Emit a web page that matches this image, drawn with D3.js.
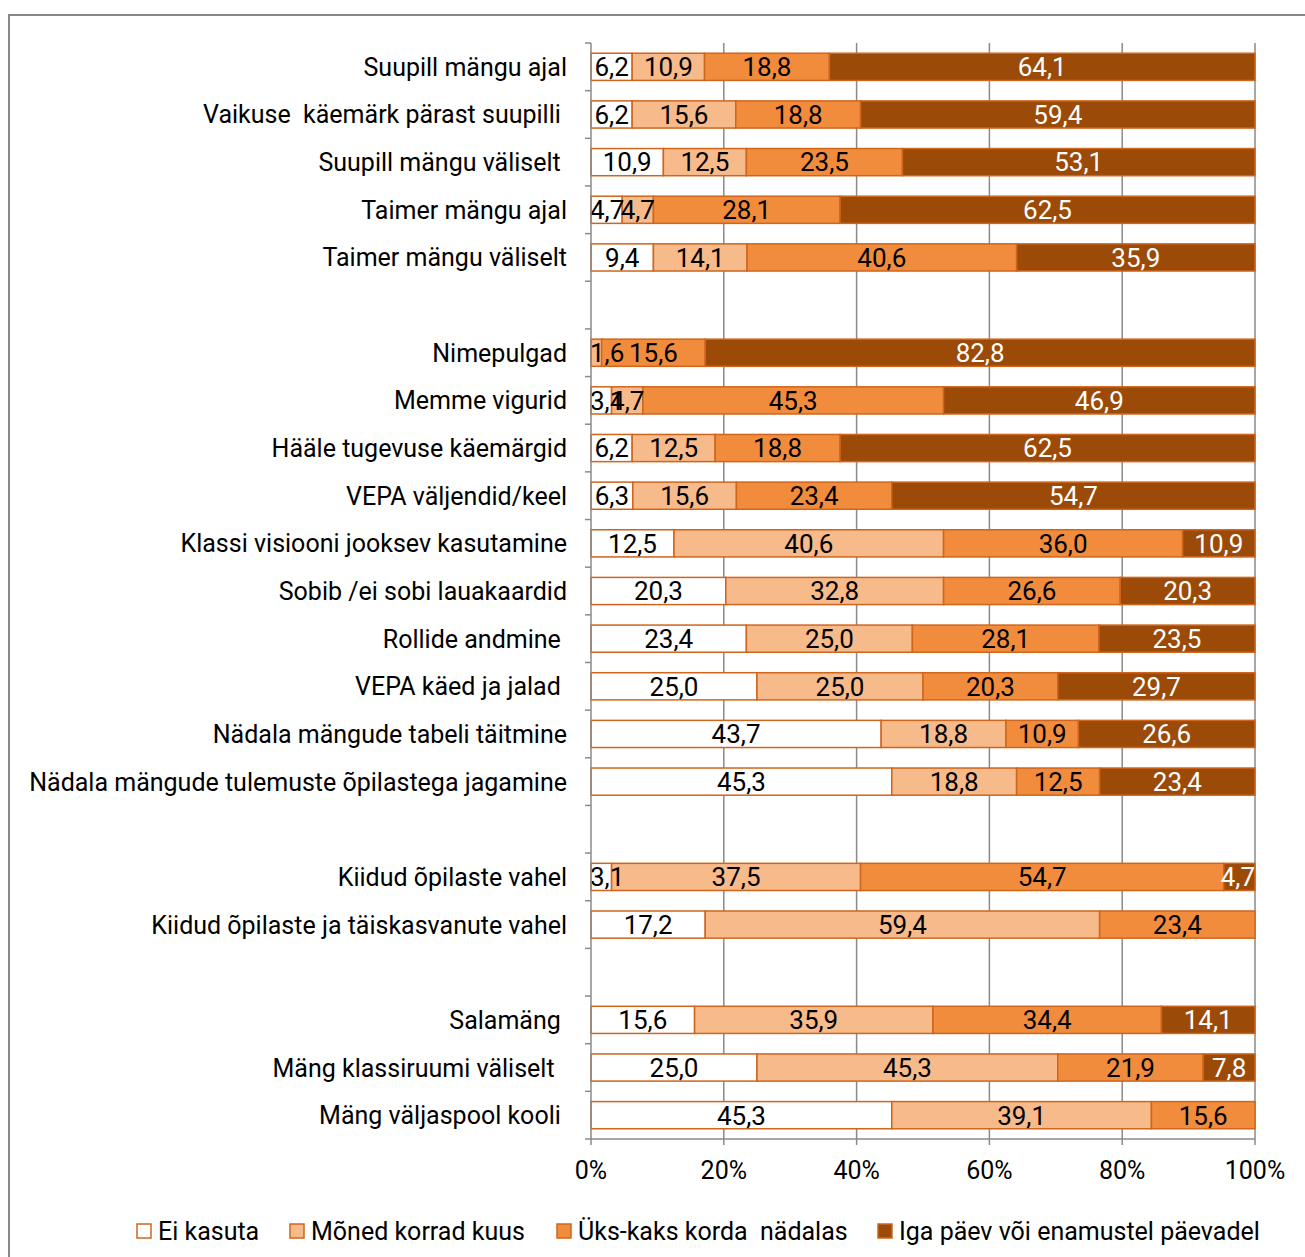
<!DOCTYPE html>
<html>
<head>
<meta charset="utf-8">
<script src="https://cdn.jsdelivr.net/npm/d3@7"></script>
<style>
  html, body { margin: 0; padding: 0; background: #fff; }
  svg text { white-space: pre; }
</style>
</head>
<body>
<svg id="chart" width="1305" height="1257"></svg>
<script>
const categories = [
  "Suupill mängu ajal",
  "Vaikuse  käemärk pärast suupilli ",
  "Suupill mängu väliselt ",
  "Taimer mängu ajal",
  "Taimer mängu väliselt",
  "",
  "Nimepulgad",
  "Memme vigurid",
  "Hääle tugevuse käemärgid",
  "VEPA väljendid/keel",
  "Klassi visiooni jooksev kasutamine",
  "Sobib /ei sobi lauakaardid",
  "Rollide andmine ",
  "VEPA käed ja jalad ",
  "Nädala mängude tabeli täitmine",
  "Nädala mängude tulemuste õpilastega jagamine",
  "",
  "Kiidud õpilaste vahel",
  "Kiidud õpilaste ja täiskasvanute vahel",
  "",
  "Salamäng ",
  "Mäng klassiruumi väliselt  ",
  "Mäng väljaspool kooli "
];
const seriesNames = ["Ei kasuta", "Mõned korrad kuus", "Üks-kaks korda  nädalas", "Iga päev või enamustel päevadel"];
const eiKasuta   = [6.2, 6.2, 10.9, 4.7, 9.4, null, 0,   3.1, 6.2, 6.3, 12.5, 20.3, 23.4, 25.0, 43.7, 45.3, null, 3.1, 17.2, null, 15.6, 25.0, 45.3];
const moned      = [10.9, 15.6, 12.5, 4.7, 14.1, null, 1.6, 4.7, 12.5, 15.6, 40.6, 32.8, 25.0, 25.0, 18.8, 18.8, null, 37.5, 59.4, null, 35.9, 45.3, 39.1];
const ykskaks    = [18.8, 18.8, 23.5, 28.1, 40.6, null, 15.6, 45.3, 18.8, 23.4, 36.0, 26.6, 28.1, 20.3, 10.9, 12.5, null, 54.7, 23.4, null, 34.4, 21.9, 15.6];
const igapaev    = [64.1, 59.4, 53.1, 62.5, 35.9, null, 82.8, 46.9, 62.5, 54.7, 10.9, 20.3, 23.5, 29.7, 26.6, 23.4, null, 4.7, 0, null, 14.1, 7.8, 0];
const xTicks = [0, 20, 40, 60, 80, 100];
const xTickLabels = ["0%", "20%", "40%", "60%", "80%", "100%"];
const colors = ["#ffffff", "#F7BA8B", "#F28C3D", "#9C4A08"];
const labelColors = ["#000", "#000", "#000", "#fff"];

const seriesValues = [eiKasuta, moned, ykskaks, igapaev];
const rows = categories.map((c, i) => {
  const r = { idx: i, name: c };
  seriesNames.forEach((s, k) => r[s] = seriesValues[k][i] || 0);
  r.empty = seriesValues[0][i] === null;
  return r;
});

const FONT = "Roboto, 'Liberation Sans', sans-serif";
const FS = 25;      // category / axis / legend text
const FS_DATA = 26; // data labels
const svg = d3.select("#chart");

// outer frame
svg.append("path")
  .attr("d", "M9,1257 L9,15 L1305,15")
  .attr("fill", "none").attr("stroke", "#888").attr("stroke-width", 2);

const x0 = 591, x1 = 1255, yTop = 43, yBot = 1139;
const x = d3.scaleLinear().domain([0, 100]).range([x0, x1]);
const yB = d3.scaleBand().domain(d3.range(categories.length)).range([yTop, yBot]).paddingInner(0.43).paddingOuter(0.215);
const yEdge = d3.scaleLinear().domain([0, categories.length]).range([yTop, yBot]);

// gridlines
svg.append("g").selectAll("line").data(xTicks.filter(t => t > 0)).join("line")
  .attr("x1", d => x(d)).attr("x2", d => x(d))
  .attr("y1", yTop).attr("y2", yBot)
  .attr("stroke", "#8a8a8a").attr("stroke-width", 1.5);

// stacked bars
const stack = d3.stack().keys(seriesNames);
const stacked = stack(rows.filter(r => !r.empty));
const fmt = v => d3.format(".1f")(v).replace(".", ",");

const gBars = svg.append("g");
stacked.forEach((layer, k) => {
  gBars.append("g").selectAll("rect").data(layer.filter(d => d[1] - d[0] > 0)).join("rect")
    .attr("x", d => x(d[0]))
    .attr("y", d => yB(d.data.idx))
    .attr("width", d => x(d[1]) - x(d[0]))
    .attr("height", yB.bandwidth())
    .attr("fill", colors[k])
    .attr("stroke", "#D0651C").attr("stroke-width", 1.5);
});

// data labels
const gLab = svg.append("g");
stacked.forEach((layer, k) => {
  gLab.append("g").selectAll("text").data(layer.filter(d => d[1] - d[0] > 0)).join("text")
    .attr("y", d => yB(d.data.idx) + yB.bandwidth() / 2)
    .attr("dy", "0.36em")
    .attr("text-anchor", "middle")
    .attr("font-family", FONT).attr("font-size", FS_DATA)
    .attr("fill", labelColors[k])
    .text(d => fmt(d[1] - d[0]))
    .each(function(d) {
      const w = this.getComputedTextLength();
      let cx = (x(d[0]) + x(d[1])) / 2;
      cx = Math.max(cx, x0 + w / 2 - 1);
      cx = Math.min(cx, x1 - w / 2);
      d3.select(this).attr("x", cx);
    });
});

// y axis
svg.append("line").attr("x1", x0).attr("x2", x0).attr("y1", yTop).attr("y2", yBot)
  .attr("stroke", "#8a8a8a").attr("stroke-width", 1.5);
svg.append("g").selectAll("line").data(d3.range(categories.length + 1)).join("line")
  .attr("x1", x0 - 6).attr("x2", x0)
  .attr("y1", d => yEdge(d)).attr("y2", d => yEdge(d))
  .attr("stroke", "#8a8a8a").attr("stroke-width", 1.5);
svg.append("g").selectAll("text").data(rows).join("text")
  .attr("x", x0 - 24)
  .attr("y", d => yB(d.idx) + yB.bandwidth() / 2)
  .attr("dy", "0.36em")
  .attr("text-anchor", "end")
  .attr("font-family", FONT).attr("font-size", FS)
  .attr("fill", "#000")
  .text(d => d.name);

// x axis
svg.append("line").attr("x1", x0).attr("x2", x1).attr("y1", yBot).attr("y2", yBot)
  .attr("stroke", "#8a8a8a").attr("stroke-width", 1.5);
svg.append("g").selectAll("line").data(xTicks).join("line")
  .attr("x1", d => x(d)).attr("x2", d => x(d))
  .attr("y1", yBot).attr("y2", yBot + 6)
  .attr("stroke", "#8a8a8a").attr("stroke-width", 1.5);
svg.append("g").selectAll("text").data(xTicks).join("text")
  .attr("x", d => x(d)).attr("y", 1170).attr("dy", "0.36em")
  .attr("text-anchor", "middle")
  .attr("font-family", FONT).attr("font-size", FS)
  .text((d, i) => xTickLabels[i]);

// legend
const legendX = [137, 290, 557, 878];
const lg = svg.append("g");
seriesNames.forEach((s, k) => {
  lg.append("rect").attr("x", legendX[k]).attr("y", 1224).attr("width", 14).attr("height", 14)
    .attr("fill", colors[k]).attr("stroke", "#D0651C").attr("stroke-width", 1.5);
  lg.append("text").attr("x", legendX[k] + 21).attr("y", 1231).attr("dy", "0.36em")
    .attr("font-family", FONT).attr("font-size", FS).text(s);
});
</script>
</body>
</html>
